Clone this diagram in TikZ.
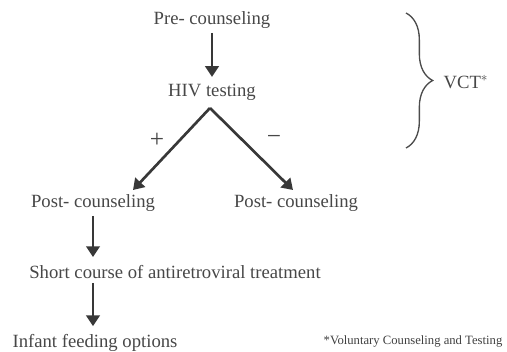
\documentclass[tikz,border=0pt]{standalone}
\usepackage{fontspec}
\setmainfont{Liberation Serif}
\usetikzlibrary{arrows.meta,decorations.pathreplacing}
\pgfmathsetmacro{\flowwidth}{2.2}
\pgfmathsetmacro{\bracewidth}{20}

\tikzset{
  flowtext/.style={font=\fontsize{14}{16}\selectfont, text=black!72, inner sep=1pt},
  signtext/.style={font=\fontsize{19}{20}\selectfont, text=black!72, inner sep=0pt},
  flowarrow/.style={draw=black!78, line width=\flowwidth pt,
    -{Triangle[width=10pt,length=8pt]}},
  notetext/.style={font=\fontsize{9.5}{11}\selectfont, text=black!75, inner sep=0pt},
}

\begin{document}
\begin{tikzpicture}[x=0.75pt, y=-0.75pt]
    \useasboundingbox (0,0) rectangle (507,351);
    % define nodes
    % VCT part
    \node[flowtext] (pre) at (212,20) {Pre- counseling};
    \node[flowtext] (hiv) at (212,92) {HIV testing};
    \coordinate (apex) at (210,108);
    \coordinate (posEnd) at (133,190);
    \coordinate (negEnd) at (293,190);
    % results
    \node[flowtext] (postL) at (93,203) {Post- counseling};
    \node[flowtext] (postR) at (296,203) {Post- counseling};
    \node[flowtext] (course) at (175,272) {Short course of antiretroviral treatment};
    \node[flowtext] (infant) at (95,343) {Infant feeding options};
    % brace
    \coordinate (braceTop) at (406,13);
    \coordinate (braceBot) at (406,148);
    \node[flowtext, anchor=west] (vct) at (442,82) {VCT$^{*}$};
    % draw diagram
    \draw[flowarrow, shorten <=2pt, shorten >=4pt] (pre) -- (hiv);
    \draw[flowarrow, line width=2pt] (apex) -- (posEnd);
    \draw[flowarrow, line width=2pt] (apex) -- (negEnd);
    \draw[flowarrow, shorten <=2pt, shorten >=5pt] (postL.south) -- (postL.south |- course.north);
    \draw[flowarrow, shorten <=2pt, shorten >=5pt] (postL.south |- course.south) -- (postL.south |- infant.north);
    \draw[black!70, line width=1pt, decorate,
      decoration={brace, amplitude=\bracewidth pt, aspect=0.5}] (braceTop) -- (braceBot);
    % add labels
    \node[signtext] (plus) at (157,140) {+};
    \node[signtext] (minus) at (274,140) {−};
    \node[notetext] (note) at (413,341) {*Voluntary Counseling and Testing};
\end{tikzpicture}
\end{document}
